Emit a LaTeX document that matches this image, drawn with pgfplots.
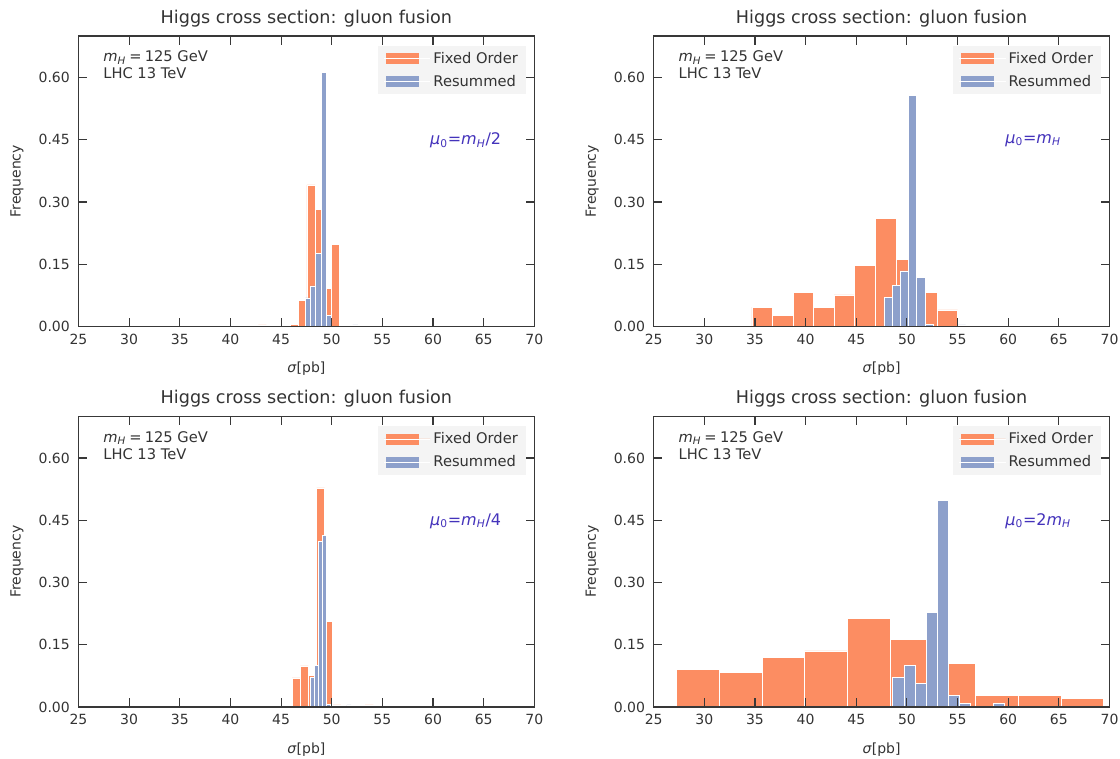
\documentclass[border=0pt]{standalone}
\usepackage{pgfplots}
\pgfplotsset{compat=1.18}
\usepackage{fontspec}
\setmainfont{DejaVu Sans}

\definecolor{forange}{HTML}{FC8D62}
\definecolor{fblue}{HTML}{8DA0CB}
\definecolor{spine}{HTML}{383838}
\definecolor{txt}{HTML}{333333}
\definecolor{legbg}{HTML}{F4F4F4}
\definecolor{annot}{HTML}{4433BB}

\newcommand{\mH}{\textit{m}\textsubscript{\textit{H}}}
\newcommand{\muz}{\textit{μ}\textsubscript{0}}

\pgfplotsset{
  hist/.style={
    scale only axis, width=341.85pt, height=217.875pt,
    xmin=25, xmax=70, ymin=0, ymax=0.7,
    xtick={25,30,...,70}, ytick={0,0.15,0.30,0.45,0.60},
    tick align=inside, tick pos=both, major tick length=6.5pt,
    every tick/.style={draw=spine, line width=0.8pt},
    axis line style={draw=spine, line width=0.8pt},
    axis on top,
    /pgf/number format/assume math mode=true,
    ticklabel style={font=\fontsize{10.5}{12}\selectfont, text=txt},
    y tick label style={/pgf/number format/fixed, /pgf/number format/fixed zerofill, /pgf/number format/precision=2, xshift=-3pt},
    x tick label style={yshift=-2pt},
    every axis title shift=0pt,
    title style={at={(axis description cs:0.5,1.06)}, anchor=center, yshift=0pt, font=\fontsize{13.2}{15}\selectfont, text=txt},
    title={Higgs cross section: gluon fusion},
    xlabel={\textit{σ}[pb]}, ylabel={Frequency},
    xlabel style={at={(axis description cs:0.5,-0.145)}, anchor=center, font=\fontsize{10.5}{12}\selectfont, text=txt},
    ylabel style={at={(axis description cs:-0.135,0.5)}, anchor=center, font=\fontsize{10.5}{12}\selectfont, text=txt},
    legend style={at={(axis description cs:0.982,0.967)}, anchor=north east, fill=legbg, draw=none,
      font=\fontsize{11}{13}\selectfont, text=txt, inner xsep=4pt, inner ysep=2.5pt, row sep=3.6pt,
      cells={anchor=west}},
  },
  fo/.style={ybar interval, fill=forange, draw=white, line width=0.5pt,
    legend image code/.code={\fill[forange] (2pt,-3.75pt) rectangle (26pt,3.75pt); \path (0pt,0pt) -- (35pt,0pt);}},
  re/.style={ybar interval, fill=fblue, draw=white, line width=0.5pt,
    legend image code/.code={\fill[fblue] (2pt,-3.75pt) rectangle (26pt,3.75pt); \path (0pt,0pt) -- (35pt,0pt);}},
}

\newcommand{\infotext}{%
  \node[anchor=west, inner sep=0pt, text=txt, font=\fontsize{11}{13}\selectfont] at (axis description cs:0.054,0.926) {\mH\hspace{0.22em}=\hspace{0.22em}125 GeV};
  \node[anchor=west, inner sep=0pt, text=txt, font=\fontsize{11}{13}\selectfont] at (axis description cs:0.054,0.871) {LHC 13 TeV};
}

\begin{document}
\begin{tikzpicture}
\useasboundingbox (0,0) rectangle (840pt,-568.5pt);

% top left: mu0 = mH/2
\begin{axis}[hist, at={(58.875pt,-244.875pt)}, anchor=south west]
\addplot[fo] coordinates {(42.75,0.004) (43.55,0) (44.35,0) (45.15,0) (45.95,0.005)
  (46.75,0.062) (47.55,0.341) (48.35,0.283) (49.15,0.091) (49.95,0.198) (50.75,0)};
\addlegendentry{Fixed Order}
\addplot[re] coordinates {(47.39,0.069) (47.91,0.098) (48.43,0.177) (48.95,0.612) (49.47,0.026)
  (49.99,0) (50.51,0) (51.03,0) (51.55,0) (52.07,0.004) (52.59,0)};
\addlegendentry{Resummed}
\infotext
\node[anchor=west, inner sep=0pt, text=annot, font=\fontsize{12}{14}\selectfont] at (axis description cs:0.771,0.64) {\muz=\mH/2};
\end{axis}

% top right: mu0 = mH
\begin{axis}[hist, at={(490.275pt,-244.875pt)}, anchor=south west]
\addplot[fo] coordinates {(34.70,0.047) (36.73,0.026) (38.76,0.083) (40.79,0.047) (42.82,0.076)
  (44.85,0.147) (46.88,0.261) (48.91,0.162) (50.94,0.083) (52.97,0.040) (55.00,0)};
\addlegendentry{Fixed Order}
\addplot[re] coordinates {(47.73,0.070) (48.54,0.099) (49.34,0.134) (50.15,0.556) (50.96,0.119)
  (51.77,0.005) (52.57,0) (53.38,0) (54.19,0) (54.99,0.004) (55.80,0)};
\addlegendentry{Resummed}
\infotext
\node[anchor=west, inner sep=0pt, text=annot, font=\fontsize{12}{14}\selectfont] at (axis description cs:0.771,0.64) {\muz=\mH};
\end{axis}

% bottom left: mu0 = mH/4
\begin{axis}[hist, at={(58.875pt,-530.25pt)}, anchor=south west]
\addplot[fo] coordinates {(46.10,0.070) (46.90,0.099) (47.70,0.077) (48.50,0.528) (49.30,0.207)
  (50.10,0.005) (50.90,0) (51.70,0) (52.50,0) (53.30,0.005) (54.10,0)};
\addlegendentry{Fixed Order}
\addplot[re] coordinates {(47.860,0.0715) (48.265,0.0995) (48.670,0.400) (49.075,0.414) (49.480,0.006)
  (49.885,0) (50.290,0) (50.695,0) (51.100,0) (51.505,0.005) (51.910,0)};
\addlegendentry{Resummed}
\infotext
\node[anchor=west, inner sep=0pt, text=annot, font=\fontsize{12}{14}\selectfont] at (axis description cs:0.771,0.64) {\muz=\mH/4};
\end{axis}

% bottom right: mu0 = 2 mH
\begin{axis}[hist, at={(490.275pt,-530.25pt)}, anchor=south west]
\addplot[fo] coordinates {(27.27,0.0915) (31.48,0.084) (35.70,0.120) (39.91,0.135) (44.13,0.214)
  (48.34,0.163) (52.55,0.106) (56.77,0.027) (60.98,0.027) (65.20,0.020) (69.41,0)};
\addlegendentry{Fixed Order}
\addplot[re] coordinates {(48.6,0.0715) (49.7,0.100) (50.8,0.057) (51.9,0.227) (53.0,0.498)
  (54.1,0.028) (55.2,0.008) (56.3,0) (57.4,0) (58.5,0.008) (59.6,0)};
\addlegendentry{Resummed}
\infotext
\node[anchor=west, inner sep=0pt, text=annot, font=\fontsize{12}{14}\selectfont] at (axis description cs:0.771,0.64) {\muz=2\mH};
\end{axis}
\end{tikzpicture}
\end{document}
